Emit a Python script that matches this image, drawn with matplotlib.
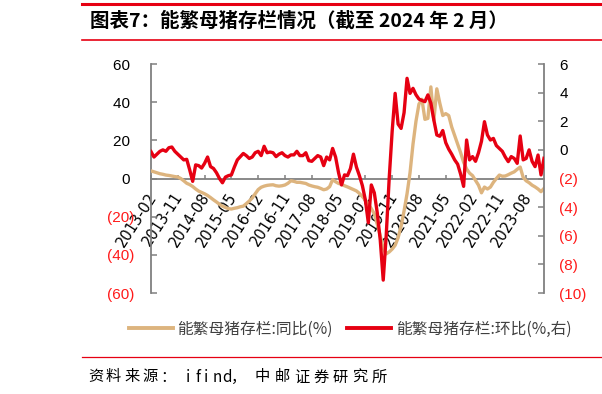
import matplotlib
matplotlib.use('Agg')
import matplotlib.pyplot as plt
import numpy as np
import pandas as pd
from matplotlib.lines import Line2D
from matplotlib.transforms import ScaledTranslation

plt.rcParams['font.family'] = ['Noto Sans CJK SC', 'DejaVu Sans']

# ---------------- data ----------------
months = pd.date_range('2013-02-01', '2024-02-01', freq='MS').strftime('%Y-%m').tolist()
tick_labels = ['2013-02', '2013-11', '2014-08', '2015-05', '2016-02', '2016-11', '2017-08',
               '2018-05', '2019-02', '2019-11', '2020-08', '2021-05', '2022-02', '2022-11', '2023-08']

# 能繁母猪存栏:同比(%)  left axis
yoy = [4.0, 3.5, 3.0, 2.5, 2.2, 1.8, 1.6, 1.3, 1.0, 0.8,
       0.0, -1.2, -2.5, -3.2, -4.2, -5.5, -6.6, -7.3, -8.0, -8.9,
       -10.0, -11.2, -12.3, -13.5, -14.5, -15.2, -15.8, -16.0, -15.6, -15.3,
       -14.8, -14.5, -13.2, -11.8, -10.2, -8.0, -5.8, -4.6, -4.0, -3.6,
       -3.4, -3.3, -3.8, -4.0, -3.8, -3.4, -2.5, -1.2, -1.5, -2.0,
       -2.0, -2.3, -2.6, -3.4, -3.9, -4.3, -4.6, -5.2, -5.9, -5.5,
       -4.3, -0.6, -1.7, -2.6, -3.0, -3.8, -4.4, -5.1, -5.8, -6.5,
       -7.8, -9.5, -11.3, -13.5, -15.8, -18.5, -24.0, -30.0, -36.5, -39.5,
       -38.5, -37.0, -35.0, -31.0, -25.0, -17.0, -8.0, 3.0, 18.0, 30.0,
       39.0, 41.5, 31.0, 31.5, 48.0, 30.5, 47.0, 39.5, 33.0, 34.0,
       33.0, 27.0, 22.5, 18.0, 13.5, 8.5, 5.0, 2.8, 1.5, -1.0,
       -3.5, -7.5, -4.5, -5.5, -4.5, -2.0, 0.0, 1.8, 1.2, 1.3,
       2.0, 2.8, 3.5, 4.8, 6.0, 0.6, -1.2, -2.2, -3.5, -4.4,
       -5.5, -6.9, -5.2]

# 能繁母猪存栏:环比(%,右)  right axis
mom = [-0.12, -0.5, -0.3, -0.1, 0.0, -0.1, 0.15, 0.2, -0.1, -0.3,
       -0.5, -0.7, -0.66, -1.4, -2.2, -1.05, -1.1, -1.27, -0.94, -0.5,
       -1.17, -1.3, -1.6, -2.0, -2.3, -1.9, -1.8, -1.75, -1.2, -0.7,
       -0.47, -0.25, -0.4, -0.6, -0.5, -0.2, -0.1, -0.4, 0.25, -0.2,
       -0.15, -0.2, -0.47, -0.3, -0.2, -0.4, -0.5, -0.35, -0.35, -0.1,
       -0.4, -0.4, -0.2, -0.75, -0.8, -0.6, -0.4, -0.5, -1.1, -0.5,
       -0.7, 0.1, -0.5, -1.6, -2.45, -1.75, -1.8, -1.3, -0.3, -1.2,
       -1.8, -2.5, -3.5, -5.1, -2.45, -3.0, -4.4, -6.3, -9.1, -6.0,
       -2.0, 1.3, 3.95, 1.8, 1.5, 2.6, 5.0, 3.95, 4.3, 3.85,
       3.55, 3.45, 3.37, 3.84, 3.26, 2.09, 1.04, 0.95, 1.35, 0.5,
       0.05, -0.3, -0.7, -1.0, -1.7, -2.55, 0.69, -0.7, -0.47, -0.8,
       -0.2, 0.6, 1.97, 1.04, 0.69, 0.8, 0.3, 0.1, -0.1, -0.5,
       -0.82, -0.47, -0.6, -0.94, 0.97, -0.7, -0.6, 0.0, -0.8, -1.17,
       -0.36, -1.75, -0.59]

left_ticks = [-60, -40, -20, 0, 20, 40, 60]
left_labels = ['(60)', '(40)', '(20)', '0 ', '20 ', '40 ', '60 ']
right_ticks = [-10, -8, -6, -4, -2, 0, 2, 4, 6]
right_labels = ['(10)', '(8)', '(6)', '(4)', '(2)', '0', '2', '4', '6']

title = '图表7：能繁母猪存栏情况（截至 2024 年 2 月）'
legend_labels = ['能繁母猪存栏:同比(%)', '能繁母猪存栏:环比(%,右)']
source = '资料来源：ifind，中邮证券研究所'

# ---------------- style ----------------
RED = '#E60012'
TAN = '#DDB47E'
GRAY = '#808080'
NEG = '#FF1A1A'

W, H = 602, 394
fig = plt.figure(figsize=(W / 100, H / 100), dpi=100)
ax = fig.add_axes([151 / W, 1 - 293 / H, 393 / W, 229 / H])
ax2 = ax.twinx()

x = np.arange(len(months))
ax.plot(x, yoy, color=TAN, lw=2.4, solid_joinstyle='round', zorder=3)
ax2.plot(x, mom, color=RED, lw=2.4, solid_joinstyle='round', zorder=3)

ax.set_xlim(0, len(months) - 1)
ax.set_ylim(-60, 60)
ax2.set_ylim(-10, 6)

for s in ['top', 'right']:
    ax.spines[s].set_visible(False)
for s in ['top', 'left', 'bottom']:
    ax2.spines[s].set_visible(False)
ax.spines['bottom'].set_position(('data', 0))
for sp in [ax.spines['left'], ax.spines['bottom'], ax2.spines['right']]:
    sp.set_color(GRAY)
    sp.set_linewidth(1.3)

num_font = ['Liberation Sans', 'DejaVu Sans']
ax.set_yticks(left_ticks)
ax.set_yticklabels(left_labels)
for lbl, v in zip(ax.get_yticklabels(), left_ticks):
    lbl.set_color(NEG if v < 0 else '#000000')
    lbl.set_family(num_font)
ax2.set_yticks(right_ticks)
ax2.set_yticklabels(right_labels)
for lbl, v in zip(ax2.get_yticklabels(), right_ticks):
    lbl.set_color(NEG if v < 0 else '#000000')
    lbl.set_family(num_font)

ax.tick_params(axis='y', direction='in', length=4, width=1.1, color=GRAY, pad=12, labelsize=11)
ax2.tick_params(axis='y', direction='in', length=4, width=1.1, color=GRAY, pad=11, labelsize=11)

tick_pos = [months.index(t) for t in tick_labels]
ax.set_xticks(tick_pos)
ax.set_xticklabels(tick_labels)
ax.tick_params(axis='x', direction='in', length=3, width=1.1, color=GRAY, pad=11, labelsize=10.5)
offset = ScaledTranslation(2 / 100, 0, fig.dpi_scale_trans)
for lbl in ax.get_xticklabels():
    lbl.set_rotation(57)
    lbl.set_ha('right')
    lbl.set_va('center')
    lbl.set_rotation_mode('anchor')
    lbl.set_family(['Liberation Sans Narrow', 'DejaVu Sans'])
    lbl.set_transform(lbl.get_transform() + offset)

# ---------------- header / footer ----------------
fig.add_artist(Line2D([82 / W, 1], [1 - 4 / H] * 2, color=RED, lw=2.2))
fig.add_artist(Line2D([82 / W, 1], [1 - 40 / H] * 2, color=RED, lw=1.2))
fig.text(90 / W, 1 - 21 / H, title, fontsize=14, fontweight='bold', ha='left', va='center', color='#000000')

handles = [Line2D([], [], color=TAN, lw=2.8), Line2D([], [], color=RED, lw=2.8)]
leg = fig.legend(handles, legend_labels, loc='center', bbox_to_anchor=(350 / W, 1 - 329 / H), ncol=2,
                 frameon=False, fontsize=11.3, handlelength=2.8, handletextpad=0.3, columnspacing=0.9)
for t in leg.get_texts():
    t.set_color('#404040')

fig.add_artist(Line2D([82 / W, 1], [1 - 357 / H] * 2, color=RED, lw=0.9))

# source line, placed character by character to mimic the wide spacing
xpos = 88.0
for ch in source:
    fig.text(xpos / W, 1 - 377 / H, ch, fontsize=11, ha='left', va='center', color='#000000')
    if ch == '：':
        xpos += 26
    elif ch.isascii():
        xpos += 9.0
    elif ch == '，':
        xpos += 24
    elif ch in '资料来源':
        xpos += 18
    else:
        xpos += 19.5

fig.savefig('out.png', dpi=100)
